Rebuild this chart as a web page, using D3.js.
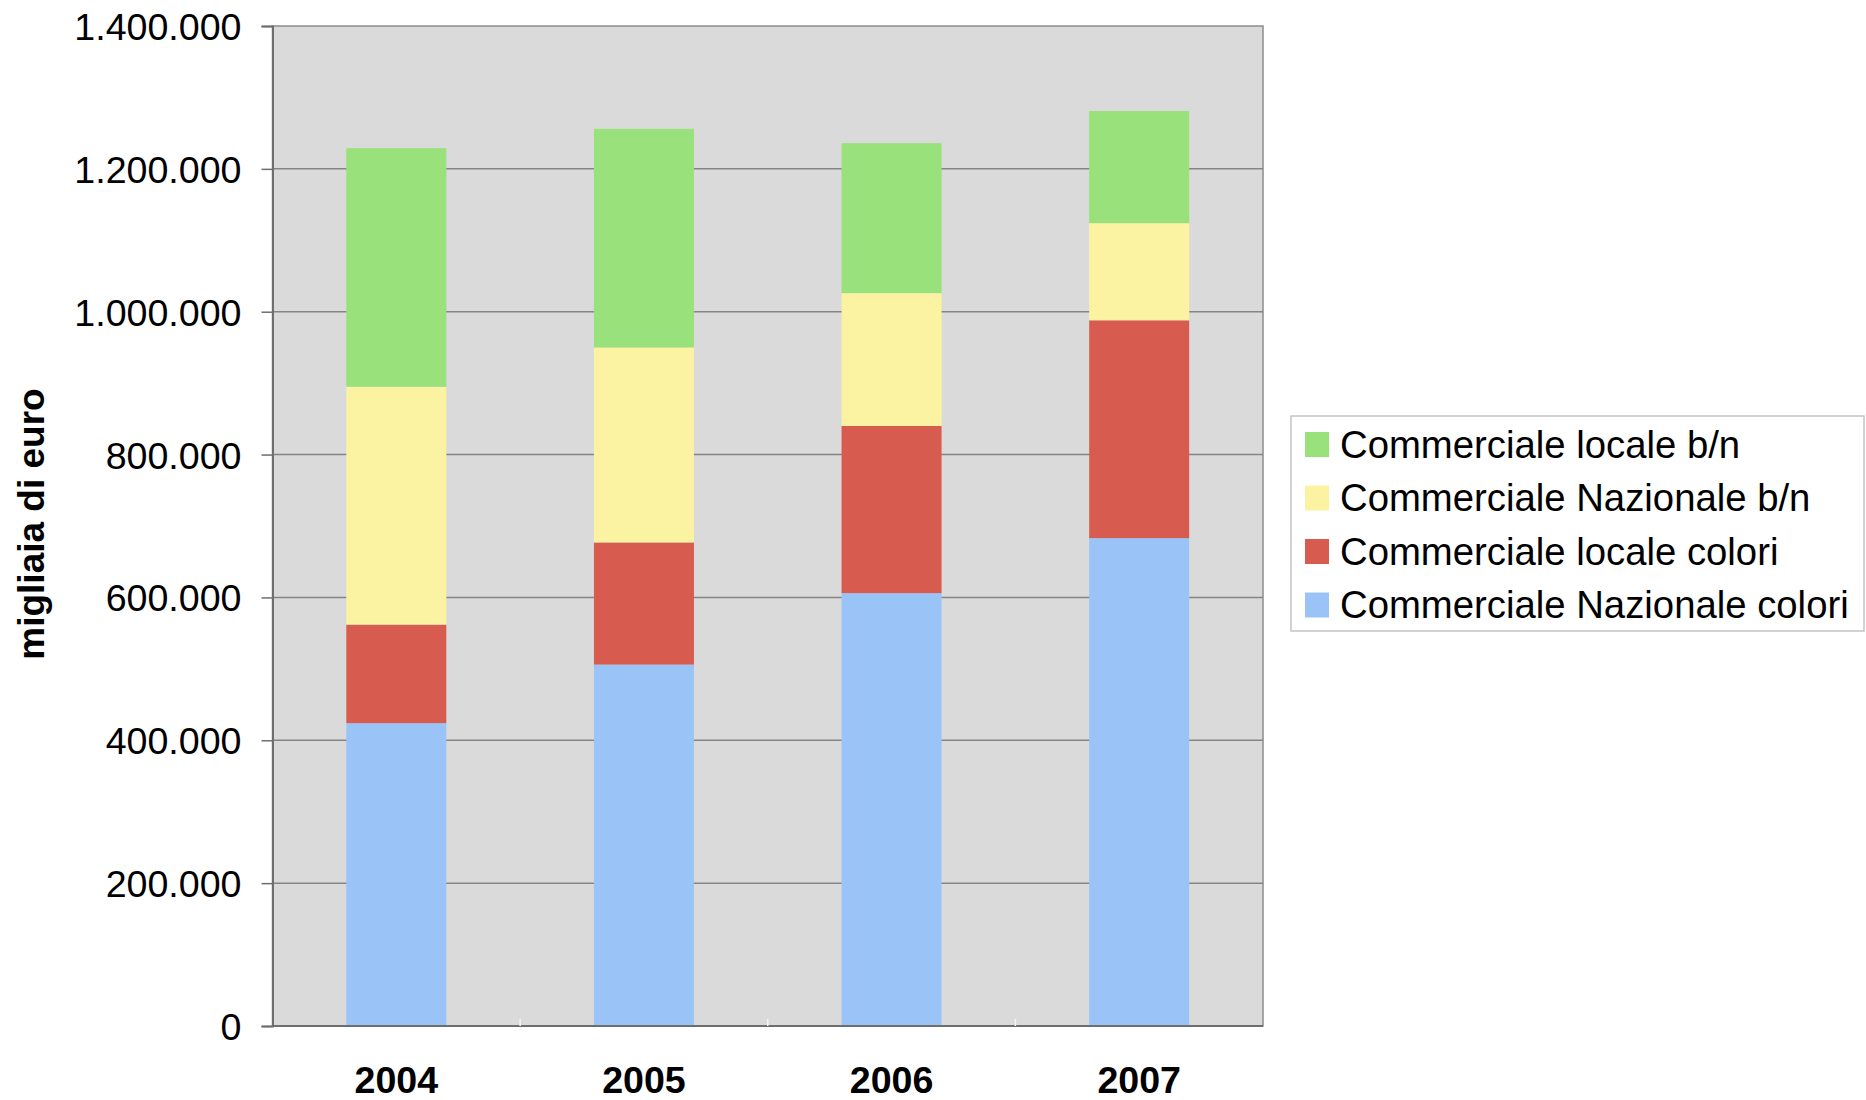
<!DOCTYPE html>
<html>
<head>
<meta charset="utf-8">
<script src="https://cdn.jsdelivr.net/npm/d3@7"></script>
<style>
  body { margin: 0; background: #ffffff; }
  svg { display: block; font-family: "Liberation Sans", Arial, sans-serif; }
</style>
</head>
<body>
<svg id="chart" width="1866" height="1100"></svg>
<script>
const years = ["2004", "2005", "2006", "2007"];
const seriesKeys = ["nazColori", "locColori", "nazBn", "locBn"];
const seriesNames = ["Commerciale Nazionale colori", "Commerciale locale colori", "Commerciale Nazionale b/n", "Commerciale locale b/n"];
const nazColori = [424000, 506000, 606000, 683000];
const locColori = [138000, 171000, 234000, 305000];
const nazBn = [333000, 273000, 186000, 136000];
const locBn = [334000, 306000, 210000, 157000];
const yTicks = [0, 200000, 400000, 600000, 800000, 1000000, 1200000, 1400000];
const colors = ["#9ac3f8", "#d75b4e", "#fcf3a2", "#98e17b"];

const data = years.map((y, i) => ({
    year: y,
    nazColori: nazColori[i],
    locColori: locColori[i],
    nazBn: nazBn[i],
    locBn: locBn[i]
}));

const chart = d3.select("#chart");
const margin = {left: 272.5, right: 603, top: 26, bottom: 74};
const width = 1866, height = 1100;

const x = d3.scaleBand()
    .domain(years)
    .range([margin.left, width - margin.right])
    .paddingInner(0.596)
    .paddingOuter(0.298);
const y = d3.scaleLinear()
    .domain([0, 1400000])
    .range([height - margin.bottom, margin.top]);
const color = d3.scaleOrdinal().domain(seriesKeys).range(colors);

// plot background
chart.append("rect")
    .attr("x", margin.left)
    .attr("y", margin.top)
    .attr("width", width - margin.right - margin.left)
    .attr("height", y(0) - margin.top)
    .attr("fill", "#dadada")
    .attr("stroke", "#8c8c8c")
    .attr("stroke-width", 1.5);

// gridlines
chart.append("g")
    .selectAll("line")
    .data(yTicks.filter(d => d > 0 && d < 1400000))
    .enter().append("line")
    .attr("x1", margin.left)
    .attr("x2", width - margin.right)
    .attr("y1", d => y(d))
    .attr("y2", d => y(d))
    .attr("stroke", "#858585")
    .attr("stroke-width", 1.5);

// stacked bars
const stacked = d3.stack().keys(seriesKeys)(data);
const bandStep = x.step();
const barW = 100;
chart.append("g").selectAll("g")
    .data(stacked)
    .enter().append("g")
    .attr("fill", d => color(d.key))
    .selectAll("rect")
    .data(d => d)
    .enter().append("rect")
    .attr("x", d => x(d.data.year) + x.bandwidth() / 2 - barW / 2)
    .attr("y", d => y(d[1]))
    .attr("width", barW)
    .attr("height", d => y(d[0]) - y(d[1]));

// y axis
const yAxis = d3.axisLeft(y)
    .tickValues(yTicks)
    .tickSize(11)
    .tickPadding(20)
    .tickFormat(d => d3.format(",")(d).replace(/,/g, "."));
const gy = chart.append("g")
    .attr("transform", "translate(" + margin.left + ",0)")
    .call(yAxis);
gy.select(".domain").attr("stroke", "#6e6e6e").attr("stroke-width", 2);
gy.selectAll(".tick line").attr("stroke", "#6e6e6e").attr("stroke-width", 1.5);
gy.selectAll("text")
    .attr("font-size", "37.6px")
    .attr("fill", "#000")
    .attr("dy", "0.36em");

// x axis baseline + small category ticks
chart.append("line")
    .attr("x1", margin.left)
    .attr("x2", width - margin.right)
    .attr("y1", y(0))
    .attr("y2", y(0))
    .attr("stroke", "#6e6e6e")
    .attr("stroke-width", 2);
chart.append("g").selectAll("line")
    .data(years.slice(1))
    .enter().append("line")
    .attr("x1", d => x(d) - bandStep * x.paddingInner() / 2)
    .attr("x2", d => x(d) - bandStep * x.paddingInner() / 2)
    .attr("y1", y(0))
    .attr("y2", y(0) - 7)
    .attr("stroke", "#f4f4f4")
    .attr("stroke-width", 1.5);

chart.append("g").selectAll("text")
    .data(years)
    .enter().append("text")
    .attr("x", d => x(d) + x.bandwidth() / 2)
    .attr("y", 1093)
    .attr("text-anchor", "middle")
    .attr("font-size", "37.6px")
    .attr("font-weight", "bold")
    .text(d => d);

// y axis title
chart.append("text")
    .attr("transform", "translate(44,524) rotate(-90)")
    .attr("text-anchor", "middle")
    .attr("font-size", "37px")
    .attr("font-weight", "bold")
    .text("migliaia di euro");

// legend
const legX = 1291, legY = 416, rowH = 53.5;
chart.append("rect")
    .attr("x", legX)
    .attr("y", legY)
    .attr("width", 573)
    .attr("height", 215)
    .attr("fill", "#ffffff")
    .attr("stroke", "#c4c4c4")
    .attr("stroke-width", 1.5);

const legendOrder = [3, 2, 1, 0];
const legend = chart.selectAll(".legend")
    .data(legendOrder)
    .enter().append("g")
    .attr("class", "legend")
    .attr("transform", (d, i) => "translate(" + legX + "," + (legY + 28 + i * rowH) + ")");
legend.append("rect")
    .attr("x", 14)
    .attr("y", -12)
    .attr("width", 24)
    .attr("height", 25)
    .attr("fill", d => colors[d]);
legend.append("text")
    .attr("x", 49)
    .attr("y", 0)
    .attr("dy", "0.36em")
    .attr("font-size", "38.3px")
    .text(d => seriesNames[d]);
</script>
</body>
</html>
